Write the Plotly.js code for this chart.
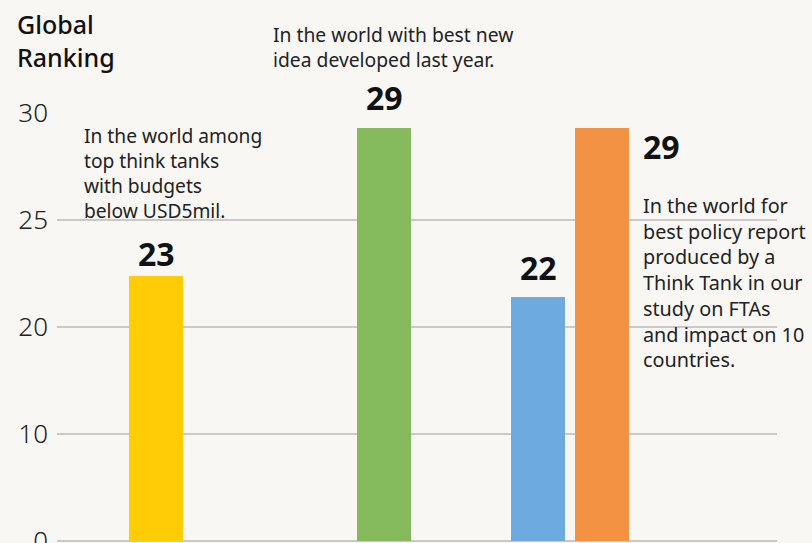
<!DOCTYPE html>
<html>
<head>
<meta charset="utf-8">
<script src="https://cdn.plot.ly/plotly-3.0.1.min.js"></script>
<style>
  html, body { margin: 0; padding: 0; background: #f8f7f3; }
  #chart { width: 812px; height: 543px; }
</style>
</head>
<body>
<div id="chart"></div>
<script>
// ---- data ----
const categories = [
  'Top think tanks with budgets below USD5mil',
  'Best new idea developed last year',
  'Best policy report (FTA study)',
  'Best policy report by a Think Tank'
];
const rankLabels = ['23', '29', '22', '29'];          // numbers printed near the bars
const barHeights = [22.4, 29.3, 21.4, 29.3];          // bar tops as read on the axis
const barColors  = ['#ffcc05', '#84b95c', '#6caadf', '#f29242'];
const tickValues = [0, 10, 20, 25, 30];               // axis labels, evenly spaced
const notes = [
  'In the world among<br>top think tanks<br>with budgets<br>below USD5mil.',
  'In the world with best new<br>idea developed last year.',
  'In the world for<br>best policy report<br>produced by a<br>Think Tank in our<br>study on FTAs<br>and impact on 10<br>countries.'
];

// ---- layout helpers (positions, not data) ----
const barSlots = [156, 384, 538, 602];   // bar centres on the pixel-like x axis
const BAR_W = 54;

// piecewise scale: tick values sit at evenly spaced positions 0..n-1
function toPos(v) {
  for (let i = 0; i < tickValues.length - 1; i++) {
    const a = tickValues[i], b = tickValues[i + 1];
    if (v <= b || i === tickValues.length - 2) return i + (v - a) / (b - a);
  }
}
const H = 543;
const PLOT_TOP = 113, ZERO_PX = 541;
const unit = (ZERO_PX - PLOT_TOP) / (tickValues.length - 1);
const yMin = -(H - ZERO_PX) / unit;
// pixel y -> paper fraction (plot area spans PLOT_TOP..H)
function pp(p) { return (H - p) / (H - PLOT_TOP); }

const FONT = 'Noto Sans, Open Sans, sans-serif';

const trace = {
  type: 'bar',
  x: barSlots,
  y: barHeights.map(toPos),
  width: BAR_W,
  marker: { color: barColors, line: { width: 0 } },
  text: categories,
  hoverinfo: 'text',
  textposition: 'none',
  cliponaxis: false
};

const labelPos = [
  { x: 156, y: 253, xanchor: 'center' },
  { x: 384, y: 98, xanchor: 'center' },
  { x: 538, y: 267, xanchor: 'center' },
  { x: 641, y: 146, xanchor: 'left' }
];

const annotations = [];
rankLabels.forEach((t, i) => {
  annotations.push({
    text: '<b>' + t + '</b>', xref: 'x', yref: 'paper',
    x: labelPos[i].x, y: pp(labelPos[i].y),
    xanchor: labelPos[i].xanchor, yanchor: 'middle',
    showarrow: false,
    font: { family: FONT, size: 32, color: '#111' }
  });
});
const notePos = [
  { x: 82, y: 120, size: 19.2 },
  { x: 271, y: 19, size: 19.3 },
  { x: 641, y: 190, size: 19.8 }
];
notes.forEach((t, i) => {
  annotations.push({
    text: t, xref: 'x', yref: 'paper',
    x: notePos[i].x, y: pp(notePos[i].y),
    xanchor: 'left', yanchor: 'top', align: 'left',
    showarrow: false,
    font: { family: FONT, size: notePos[i].size, color: '#222' }
  });
});

const layout = {
  width: 812, height: H,
  paper_bgcolor: '#f8f7f3',
  plot_bgcolor: '#f8f7f3',
  margin: { l: 57, r: 35, t: PLOT_TOP, b: 0, pad: 0 },
  showlegend: false,
  title: {
    text: 'Global<br>Ranking',
    font: { family: FONT, size: 25, color: '#111', weight: 500 },
    xref: 'container', yref: 'container',
    x: 17 / 812, xanchor: 'left',
    y: 1 - 34 / H, yanchor: 'top'
  },
  xaxis: {
    range: [57, 777],
    showgrid: false, zeroline: false, showline: false,
    showticklabels: false, fixedrange: true
  },
  yaxis: {
    range: [yMin, tickValues.length - 1],
    tickmode: 'array',
    tickvals: tickValues.map(toPos),
    ticktext: tickValues.map(String),
    ticks: '',
    ticklabelstandoff: 8,
    ticklabeloverflow: 'allow',
    tickfont: { family: FONT, size: 26, color: '#222', weight: 300 },
    showgrid: true, gridcolor: '#c9c9c9', gridwidth: 2,
    zeroline: true, zerolinecolor: '#c9c9c9', zerolinewidth: 2,
    showline: false, fixedrange: true
  },
  annotations: annotations,
  bargap: 0
};

Plotly.newPlot('chart', [trace], layout, { displayModeBar: false, staticPlot: true });
</script>
</body>
</html>
